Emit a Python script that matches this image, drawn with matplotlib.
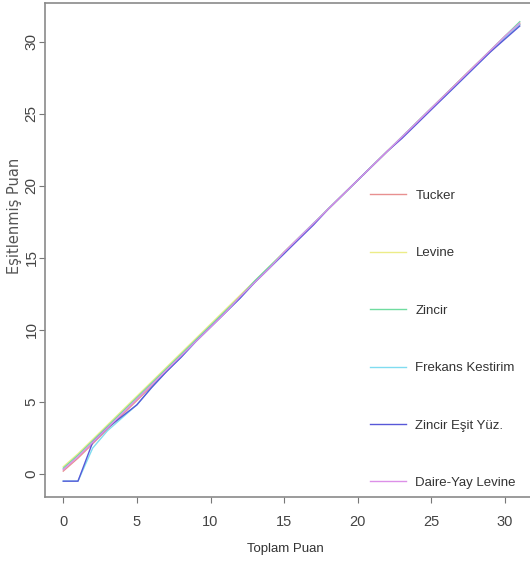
import matplotlib
matplotlib.use("Agg")
import matplotlib.pyplot as plt
import numpy as np

x = list(range(0, 32))

tucker = [0.2, 1.1, 2.1, 3.1, 4.1, 5.1, 6.1, 7.1, 8.2, 9.2, 10.2, 11.2, 12.3, 13.3, 14.3, 15.4,
          16.4, 17.4, 18.4, 19.4, 20.4, 21.4, 22.4, 23.4, 24.4, 25.4, 26.4, 27.4, 28.4, 29.3, 30.3, 31.2]
levine = [0.5, 1.4, 2.4, 3.4, 4.4, 5.4, 6.4, 7.4, 8.4, 9.4, 10.4, 11.4, 12.4, 13.4, 14.4, 15.4,
          16.4, 17.4, 18.4, 19.4, 20.4, 21.4, 22.4, 23.4, 24.4, 25.4, 26.4, 27.4, 28.4, 29.4, 30.4, 31.3]
zincir = [0.4, 1.3, 2.3, 3.3, 4.3, 5.3, 6.3, 7.3, 8.3, 9.3, 10.3, 11.3, 12.3, 13.4, 14.4, 15.4,
          16.4, 17.4, 18.4, 19.4, 20.4, 21.4, 22.4, 23.4, 24.4, 25.4, 26.4, 27.4, 28.4, 29.4, 30.4, 31.4]
frekans = [-0.5, -0.5, 1.8, 3.0, 3.9, 4.8, 6.0, 7.1, 8.1, 9.2, 10.2, 11.2, 12.2, 13.3, 14.3, 15.3,
           16.4, 17.4, 18.4, 19.4, 20.4, 21.4, 22.4, 23.4, 24.4, 25.4, 26.3, 27.3, 28.3, 29.3, 30.3, 31.2]
zincir_esit = [-0.5, -0.5, 2.2, 3.2, 4.0, 4.8, 6.0, 7.1, 8.1, 9.2, 10.2, 11.2, 12.2, 13.3, 14.3, 15.3,
               16.3, 17.3, 18.4, 19.4, 20.4, 21.4, 22.4, 23.3, 24.3, 25.3, 26.3, 27.3, 28.3, 29.3, 30.2, 31.1]
daire_yay = [0.3, 1.2, 2.2, 3.2, 4.2, 5.2, 6.2, 7.2, 8.2, 9.2, 10.2, 11.2, 12.3, 13.3, 14.3, 15.4,
             16.4, 17.4, 18.4, 19.4, 20.4, 21.4, 22.4, 23.4, 24.4, 25.4, 26.4, 27.4, 28.4, 29.4, 30.4, 31.3]

series = [tucker, levine, zincir, frekans, zincir_esit, daire_yay]
labels = ["Tucker", "Levine", "Zincir", "Frekans Kestirim", "Zincir Eşit Yüz.", "Daire-Yay Levine"]
colors = ["#e89090", "#ecec88", "#70dca0", "#80dcf0", "#5858d8", "#dc90e8"]

xticks = [0, 5, 10, 15, 20, 25, 30]
yticks = [0, 5, 10, 15, 20, 25, 30]

fig = plt.figure(figsize=(5.30, 5.64), dpi=100)
ax = fig.add_axes([45/530, 1-497/564, (538-45)/530, (497-3)/564])

for ys, lab, c in zip(series, labels, colors):
    ax.plot(x, ys, color=c, lw=1.0, label=lab)

ax.set_xlim(-1.24, 32.24)
ax.set_ylim(-1.6, 32.7)
ax.set_xticks(xticks)
ax.set_yticks(yticks)
for s in ax.spines.values():
    s.set_color("#8a8a8a")
    s.set_linewidth(1.2)

font = ["Liberation Sans", "DejaVu Sans"]
ax.tick_params(axis="both", direction="out", length=4, color="#777777",
               labelcolor="#444444")
ax.tick_params(axis="x", pad=9)
ax.tick_params(axis="y", pad=0.5)
for t in ax.get_xticklabels():
    t.set_family(font)
    t.set_fontsize(10.5)
for t in ax.get_yticklabels():
    t.set_rotation(90)
    t.set_va("center")
    t.set_fontsize(11)
    t.set_family(font)

ax.set_xlabel("Toplam Puan", family=font, fontsize=9.5, color="#333333")
ax.xaxis.set_label_coords((285-45)/493, -(543-497)/494)
ax.set_ylabel("Eşitlenmiş Puan", family="DejaVu Sans", fontsize=10.5, color="#555555")
ax.yaxis.set_label_coords((7-45)/493, (497-216)/494)
ax.yaxis.label.set_va("top")

leg = ax.legend(loc="upper left", bbox_to_anchor=((358-45)/493, 1-(178-3)/494),
                frameon=False, prop={"family": font, "size": 9.5},
                labelspacing=3.42, handlelength=2.7, handletextpad=0.75)
for t in leg.get_texts():
    t.set_color("#333333")

fig.savefig("out.png", dpi=100)
